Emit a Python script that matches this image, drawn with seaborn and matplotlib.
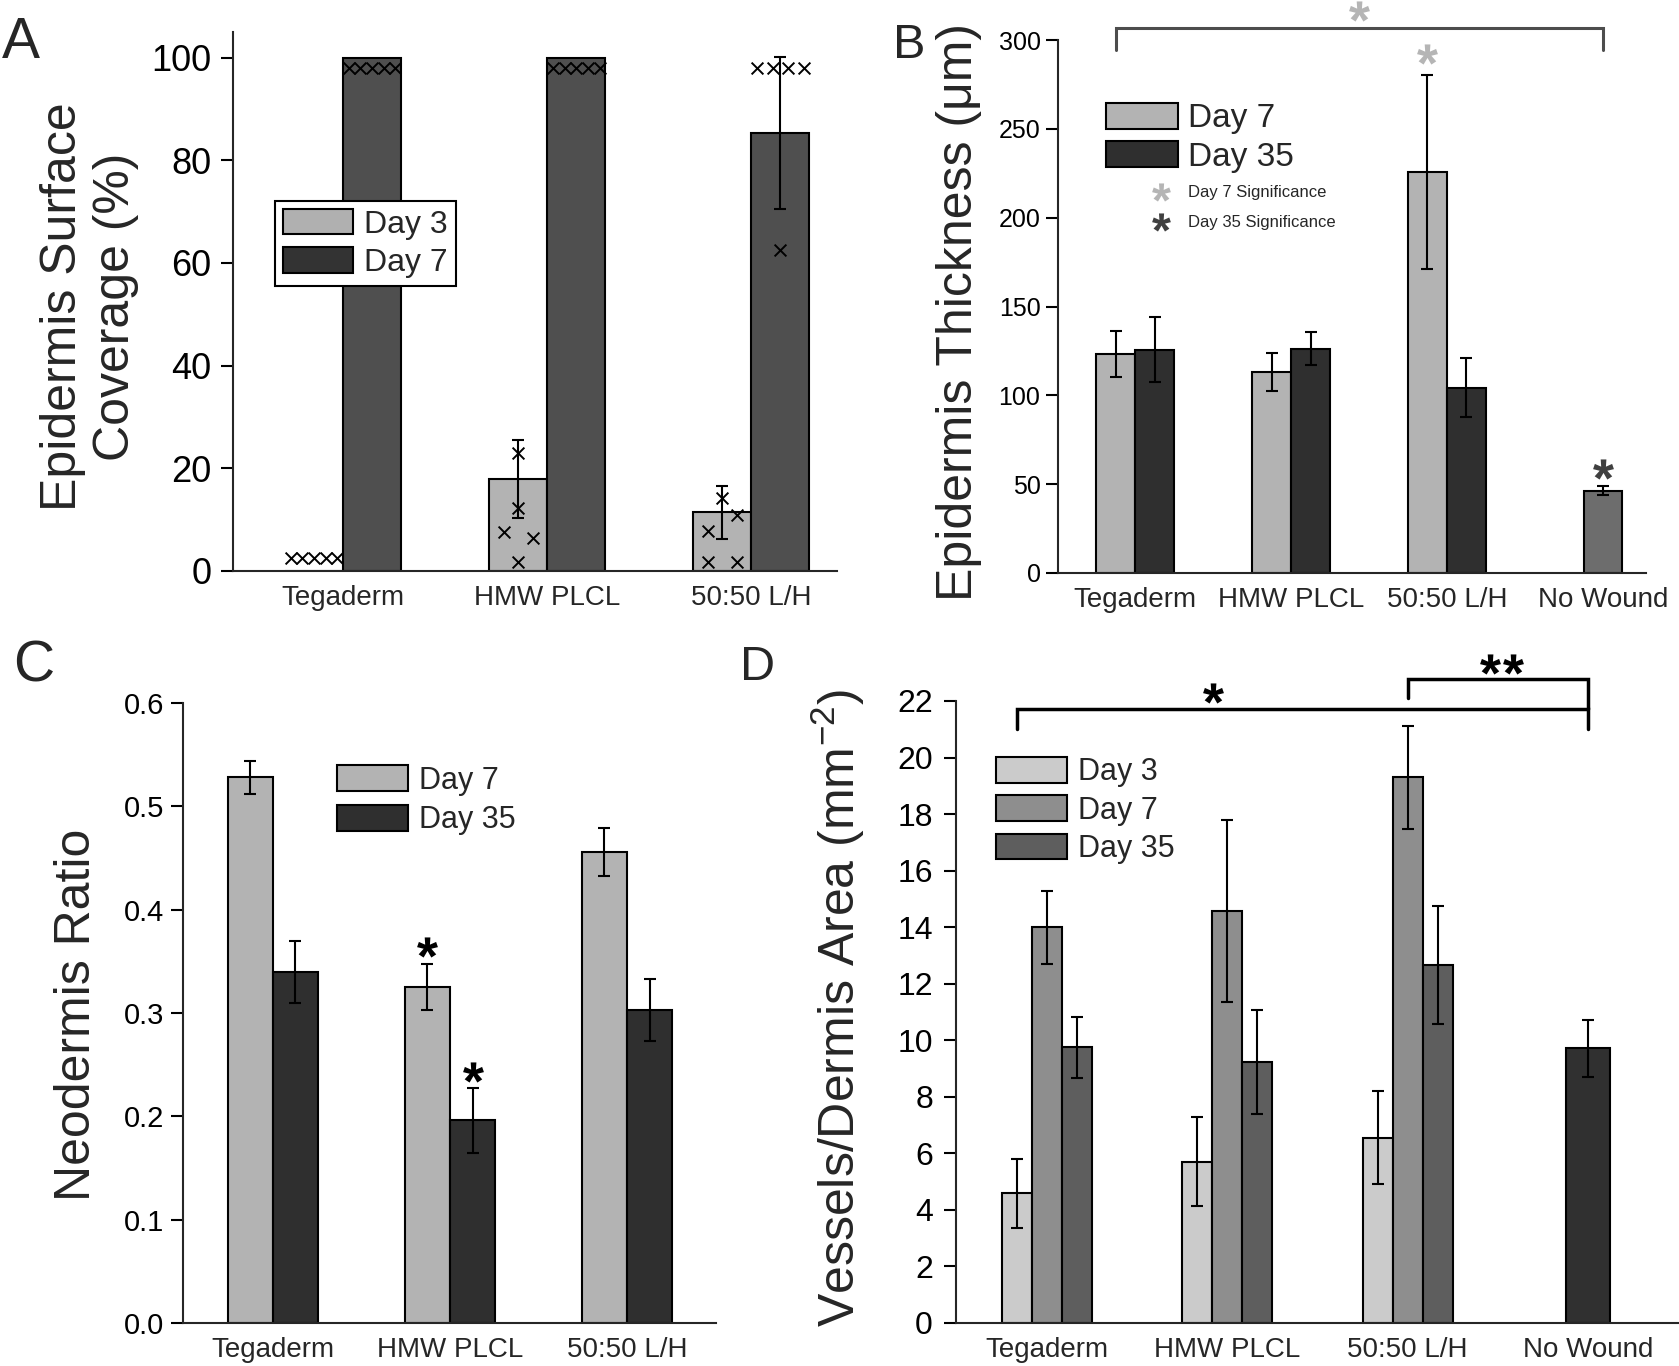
import numpy as np
import pandas as pd
import matplotlib.pyplot as plt
import matplotlib.transforms as mtransforms
import seaborn as sns
from matplotlib.patches import Patch

sns.set_style('ticks')
plt.rcParams['font.family'] = ['Liberation Sans', 'DejaVu Sans']
plt.rcParams['mathtext.fontset'] = 'custom'
plt.rcParams['mathtext.rm'] = 'Liberation Sans'
plt.rcParams['mathtext.bf'] = 'Liberation Sans:bold'
plt.rcParams['axes.linewidth'] = 1.5

W, H = 1679, 1366

groups = ['Tegaderm', 'HMW PLCL', '50:50 L/H']
groups_nw = ['Tegaderm', 'HMW PLCL', '50:50 L/H', 'No Wound']

# A - epidermis surface coverage (%)
a_days = ['Day 3', 'Day 7']
a_day3 = [0.0, 18.0, 11.4]
a_day3_err = [0.0, 7.6, 5.1]
a_day7 = [100.0, 100.0, 85.4]
a_day7_err = [0.0, 0.0, 14.8]
a_pts_day3 = [[2.5, 2.5, 2.5, 2.5, 2.5],
              [22.9, 12.2, 7.6, 6.5, 1.8],
              [14.2, 7.8, 10.9, 1.8, 1.8]]
a_pts_day7 = [[98, 98, 98, 98, 98],
              [98, 98, 98, 98, 98],
              [98, 98, 98, 98, 62.6]]

# B - epidermis thickness (um)
b_days = ['Day 7', 'Day 35']
b_day7 = [123.4, 113.3, 225.7]
b_day7_err = [12.9, 10.7, 54.5]
b_day35 = [125.7, 126.2, 104.4]
b_day35_err = [18.4, 9.2, 16.6]
b_nowound = 46.4
b_nowound_err = 2.4

# C - neodermis ratio
c_days = ['Day 7', 'Day 35']
c_day7 = [0.528, 0.325, 0.456]
c_day7_err = [0.016, 0.0225, 0.023]
c_day35 = [0.340, 0.196, 0.303]
c_day35_err = [0.030, 0.031, 0.030]

# D - vessels / dermis area
d_days = ['Day 3', 'Day 7', 'Day 35']
d_day3 = [4.59, 5.70, 6.56]
d_day3_err = [1.22, 1.57, 1.64]
d_day7 = [14.0, 14.56, 19.30]
d_day7_err = [1.29, 3.22, 1.81]
d_day35 = [9.75, 9.23, 12.66]
d_day35_err = [1.09, 1.84, 2.09]
d_nowound = 9.72
d_nowound_err = 1.01


def long_table(days, means, errs):
    rows = []
    for d, m, e in zip(days, means, errs):
        for g, v, s in zip(groups, m, e):
            rows.append({'group': g, 'day': d, 'value': v, 'err': s})
    return pd.DataFrame(rows)


def errbars(ax, x, y, e):
    ax.errorbar(x, y, yerr=e, fmt='none', ecolor='black', elinewidth=1.5,
                capsize=4.5, capthick=1.5, zorder=3)


def bar_panel(ax, df, order, days, colors, width):
    n0 = len(ax.patches)
    sns.barplot(data=df, x='group', y='value', hue='day', order=order,
                hue_order=days, palette=dict(zip(days, colors)), width=width,
                saturation=1, errorbar=None, edgecolor='black', linewidth=1.5,
                legend=False, ax=ax)
    new = sorted(ax.patches[n0:], key=lambda p: p.get_x())
    df = df.assign(gi=df['group'].map(order.index),
                   di=df['day'].map(days.index)).sort_values(['gi', 'di'])
    df['x'] = [p.get_x() + p.get_width() / 2 for p in new]
    df['w'] = [p.get_width() for p in new]
    e = df[df['err'] > 0]
    errbars(ax, e['x'], e['value'], e['err'])
    return df


def single_bar(ax, order, label, value, err, color, width):
    n0 = len(ax.patches)
    sns.barplot(x=[label], y=[value], order=order, color=color, width=width,
                saturation=1, errorbar=None, edgecolor='black', linewidth=1.5,
                ax=ax)
    p = ax.patches[n0]
    xc = p.get_x() + p.get_width() / 2
    errbars(ax, [xc], [value], [err])
    return xc


def star(ax, x, y, color='black', ms=15, dx=0, dy=0, trans=None):
    base = ax.transData if trans is None else trans
    tr = mtransforms.offset_copy(base, fig=fig, x=dx, y=dy, units='points')
    ax.plot([x], [y], linestyle='none', marker='$\\mathbf{*}$',
            ms=ms, color=color, mec=color, mew=0, transform=tr,
            clip_on=False, zorder=5)


def bracket(ax, x0, x1, y, y0_end, y1_end, color, lw):
    ax.plot([x0, x0, x1, x1], [y0_end, y, y, y1_end], color=color, lw=lw,
            clip_on=False, solid_joinstyle='miter')


def legend(ax, days, colors, fs, anchor, frame, hl, hh, ls, htp, bp):
    handles = [Patch(facecolor=c, edgecolor='black', linewidth=1.5, label=d)
               for d, c in zip(days, colors)]
    leg = ax.legend(handles=handles, loc='upper left',
                    bbox_to_anchor=(anchor[0] / W, 1 - anchor[1] / H),
                    bbox_transform=fig.transFigure, frameon=frame, fontsize=fs,
                    handlelength=hl, handleheight=hh, labelspacing=ls,
                    handletextpad=htp, borderpad=bp, borderaxespad=0,
                    fancybox=False, edgecolor='black', framealpha=1)
    leg.get_frame().set_linewidth(1.5)


def style(ax, ylabel, ylab_xy, yfs, ypad, xfs=20):
    sns.despine(ax=ax)
    ax.set_xlabel('')
    ax.set_ylabel(ylabel, fontsize=36, va='center')
    ax.yaxis.set_label_coords(*ylab_xy)
    ax.tick_params(axis='y', length=8.6, width=1.5, labelsize=yfs, pad=ypad,
                   colors='black')
    ax.tick_params(axis='x', length=0, labelsize=xfs, pad=10)


def spread(ax, vals, xc, bar_w, thresh_px=16.4):
    # lay out overlapping points side by side inside a bar
    ypx = np.array([ax.transData.transform((0, v))[1] for v in vals])
    xpx_unit = ax.transData.transform((1, 0))[0] - ax.transData.transform((0, 0))[0]
    bar_px = bar_w * xpx_unit
    idx = np.argsort(ypx, kind='stable')
    clusters = []
    for i in idx:
        if clusters and ypx[i] - ypx[clusters[-1][-1]] < thresh_px:
            clusters[-1].append(i)
        else:
            clusters.append([i])
    offs = np.zeros(len(vals))
    for c in clusters:
        c = sorted(c)
        k = len(c)
        if k > 1:
            s = min(0.5 * bar_px, 0.8 * bar_px / (k - 1))
            for j, i in enumerate(c):
                offs[i] = (j - (k - 1) / 2) * s
    return xc + offs / xpx_unit


fig = plt.figure(figsize=(W / 100, H / 100), dpi=100)
axA = fig.add_axes([233 / W, 1 - 571 / H, 604 / W, 539 / H])
axB = fig.add_axes([1058 / W, 1 - 573 / H, 588 / W, 533 / H])
axC = fig.add_axes([183 / W, 1 - 1323 / H, 533 / W, 620 / H])
axD = fig.add_axes([956 / W, 1 - 1323 / H, 722 / W, 622 / H])

# ---------------- A
a_width = 0.57
a_cols = ['#b3b3b3', '#4f4f4f']
dfA = long_table(a_days, [a_day3, a_day7], [a_day3_err, a_day7_err])
dfA = bar_panel(axA, dfA, groups, a_days, a_cols, a_width)
axA.set_xlim(-0.539, 2.42)
axA.set_ylim(0, 105)
px, py = [], []
for d, plist in zip(a_days, [a_pts_day3, a_pts_day7]):
    for g, vals in zip(groups, plist):
        r = dfA[(dfA.group == g) & (dfA.day == d)].iloc[0]
        px.extend(spread(axA, vals, r.x, r.w))
        py.extend(vals)
sns.scatterplot(x=px, y=py, marker='x', color='black', s=72, linewidth=1.4,
                legend=False, zorder=4, ax=axA)
axA.set_xlim(-0.539, 2.42)
axA.set_ylim(0, 105)
axA.set_yticks(np.arange(0, 101, 20))
style(axA, 'Epidermis Surface\nCoverage (%)', (-0.237, 0.49), 26, 7)
legend(axA, a_days, ['#b0b0b0', '#333333'], 23, (275, 201), True,
       2.19, 0.85, 0.23, 0.35, 0.25)

# ---------------- B
b_cols = ['#b3b3b3', '#2f2f2f']
dfB = long_table(b_days, [b_day7, b_day35], [b_day7_err, b_day35_err])
dfB = bar_panel(axB, dfB, groups_nw, b_days, b_cols, 0.5)
xnw = single_bar(axB, groups_nw, 'No Wound', b_nowound, b_nowound_err,
                 '#6d6d6d', 0.245)
axB.set_xlim(-0.494, 3.276)
axB.set_ylim(0, 300)
axB.set_yticks(np.arange(0, 301, 50))
style(axB, 'Epidermis Thickness (\u03bcm)', (-0.169, 0.49), 18, 4)
legend(axB, b_days, b_cols, 24, (1106, 103), False, 2.16, 0.81, 0.21, 0.3, 0)
x_teg7 = dfB.loc[(dfB.group == 'Tegaderm') & (dfB.day == 'Day 7'), 'x'].iloc[0]
bracket(axB, x_teg7, xnw, 306.8, 294.4, 294.4, '#4d4d4d', 2.2)
star(axB, 1.436, 316.4, color='#b5b5b5')
r = dfB[(dfB.group == '50:50 L/H') & (dfB.day == 'Day 7')].iloc[0]
star(axB, r.x, r.value + r.err, color='#b5b5b5', dy=15.5)
star(axB, xnw, b_nowound + b_nowound_err, color='#404040', dy=12.6)
star(axB, 1161 / W, 1 - 192 / H, color='#b5b5b5', ms=13.5, trans=fig.transFigure)
star(axB, 1161 / W, 1 - 222 / H, color='#404040', ms=13.5, trans=fig.transFigure)
fig.text(1188 / W, 1 - 192 / H, 'Day 7 Significance', fontsize=12, va='center')
fig.text(1188 / W, 1 - 222 / H, 'Day 35 Significance', fontsize=12, va='center')

# ---------------- C
c_cols = ['#b3b3b3', '#2f2f2f']
dfC = long_table(c_days, [c_day7, c_day35], [c_day7_err, c_day35_err])
dfC = bar_panel(axC, dfC, groups, c_days, c_cols, 0.51)
axC.set_xlim(-0.508, 2.503)
axC.set_ylim(0, 0.6)
axC.set_yticks(np.arange(0, 0.61, 0.1))
axC.yaxis.set_major_formatter('{x:.1f}')
style(axC, 'Neodermis Ratio', (-0.199, 0.497), 21, 5)
legend(axC, c_days, c_cols, 22, (337, 765), False, 2.32, 0.95, 0.29, 0.36, 0)
for _, r in dfC[dfC.group == 'HMW PLCL'].iterrows():
    star(axC, r.x, r.value + r.err, dy=12)

# ---------------- D
d_cols = ['#cbcbcb', '#8e8e8e', '#5e5e5e']
dfD = long_table(d_days, [d_day3, d_day7, d_day35],
                 [d_day3_err, d_day7_err, d_day35_err])
dfD = bar_panel(axD, dfD, groups_nw, d_days, d_cols, 0.5)
xnw = single_bar(axD, groups_nw, 'No Wound', d_nowound, d_nowound_err,
                 '#303030', 0.245)
axD.set_xlim(-0.506, 3.5)
axD.set_ylim(0, 22)
axD.set_yticks(np.arange(0, 23, 2))
style(axD, 'Vessels/Dermis Area (mm$^{\\mathrm{-2}}$)', (-0.163, 0.506), 23, 8)
legend(axD, d_days, d_cols, 22, (996, 757), False, 2.32, 0.92, 0.26, 0.36, 0)
x_teg3 = dfD.loc[(dfD.group == 'Tegaderm') & (dfD.day == 'Day 3'), 'x'].iloc[0]
x_5050 = dfD.loc[(dfD.group == '50:50 L/H') & (dfD.day == 'Day 7'), 'x'].iloc[0]
bracket(axD, x_teg3, xnw, 21.7, 21.0, 21.0, 'black', 2.5)
bracket(axD, x_5050, xnw, 22.77, 22.1, 21.7, 'black', 2.5)
star(axD, 0.92, 22.3)
star(axD, 2.52, 23.3, dx=-8.3)
star(axD, 2.52, 23.3, dx=8.3)

# panel letters
fig.text(2 / W, 1 - 58 / H, 'A', fontsize=41, va='baseline')
fig.text(893 / W, 1 - 58 / H, 'B', fontsize=35, va='baseline')
fig.text(13 / W, 1 - 681 / H, 'C', fontsize=41, va='baseline')
fig.text(740 / W, 1 - 680 / H, 'D', fontsize=35, va='baseline')

fig.savefig('out.png', dpi=100)
